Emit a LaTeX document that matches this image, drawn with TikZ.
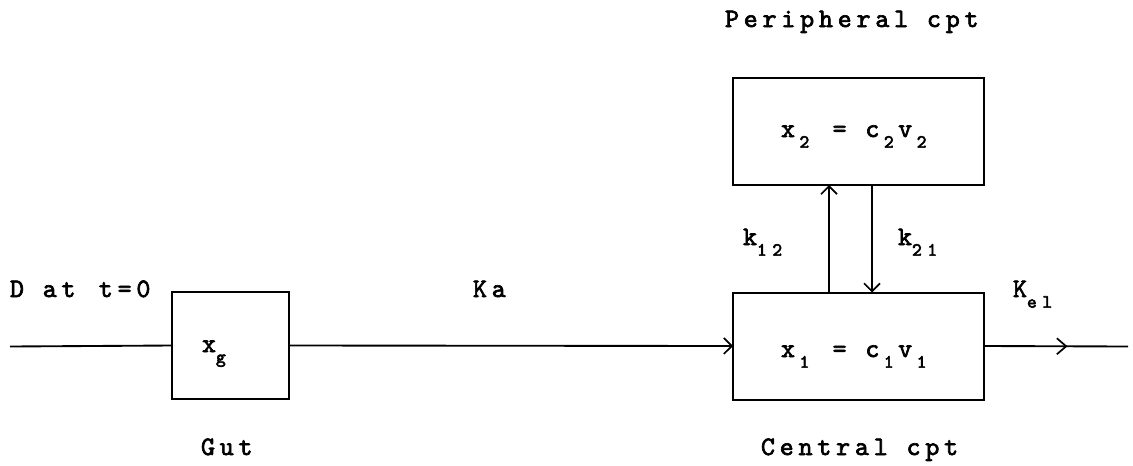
\documentclass[tikz,border=0pt]{standalone}
\usepackage{fontspec}
\usetikzlibrary{arrows.meta,decorations.markings}
\newfontfamily\pr{lmmono10-regular.otf}[LetterSpace=18,FakeBold=2.5]
\newfontfamily\prsub{lmmono10-regular.otf}[LetterSpace=30,FakeBold=3]
\newlength\pitch
\setlength\pitch{14.1pt}
\newcommand{\lo}[1]{\raisebox{-0.4em}{\fontsize{14}{14}\prsub #1}}
\newcommand{\locol}[1]{\makebox[\pitch][c]{\lo{#1}}}
\newcommand{\gap}{\makebox[\pitch]{}}
\begin{document}
\begin{tikzpicture}[x=0.75pt,y=-0.75pt,
  box/.style={draw, line width=1.5pt, outer sep=0pt, inner sep=0pt,
    minimum width=188.25pt, minimum height=80.25pt},
  txt/.style={inner sep=0pt, outer sep=0pt, anchor=base west,
    font=\fontsize{20}{22}\pr},
  wire/.style={line width=1.4pt},
  tip/.style={-{Straight Barb[length=6pt,width=12pt,line width=1.3pt]}},
  midtip/.style={postaction={decorate}, decoration={markings,
    mark=at position 0.58 with {\arrow{Straight Barb[length=7pt,width=12pt,line width=1.3pt]}}}}]
\useasboundingbox (0,0) rectangle (1133,465);
\fill[white] (0,0) rectangle (1133,465);

% boxes
\node[box, minimum width=87.75pt] (gut) at (230.5,345.5) {};
\node[box] (central) at (858.5,346) {};
\node[box] (periph) at (858.5,131.5) {};

% box contents
\node[txt] (xg) at (202,352) {x\lo{g}};
\node[txt] (x1) at (781,357) {x\locol{1}\gap=\gap c\locol{1}v\locol{1}};
\node[txt] (x2) at (781,137) {x\locol{2}\gap=\gap c\locol{2}v\locol{2}};

% labels
\node[txt] (lperiph) at (725,27) {Peripheral cpt};
\node[txt] (lcentral) at (761,455) {Central cpt};
\node[txt] (lgut) at (201,455) {Gut};
\node[txt] (ldose) at (10,297) {D at\ \,t=0};
\node[txt] (lka) at (473,297) {Ka};
\node[txt] (lkel) at (1013,297) {K\lo{el}};
\node[txt] (lk12) at (743,245) {k\lo{12}};
\node[txt] (lk21) at (898,245) {k\lo{21}};

% connectors
\coordinate (start) at (10,346.5);
\coordinate (stop) at (1128,346.5);
\coordinate (kup) at (829,0);
\coordinate (kdn) at (872,0);
\draw[wire] (start) -- (gut.west);
\draw[wire, tip] (gut.east) -- (central.west);
\draw[wire, midtip] (central.east) -- (stop);
\draw[wire, tip] (central.north -| kup) -- (periph.south -| kup);
\draw[wire, tip] (periph.south -| kdn) -- (central.north -| kdn);
\end{tikzpicture}
\end{document}
